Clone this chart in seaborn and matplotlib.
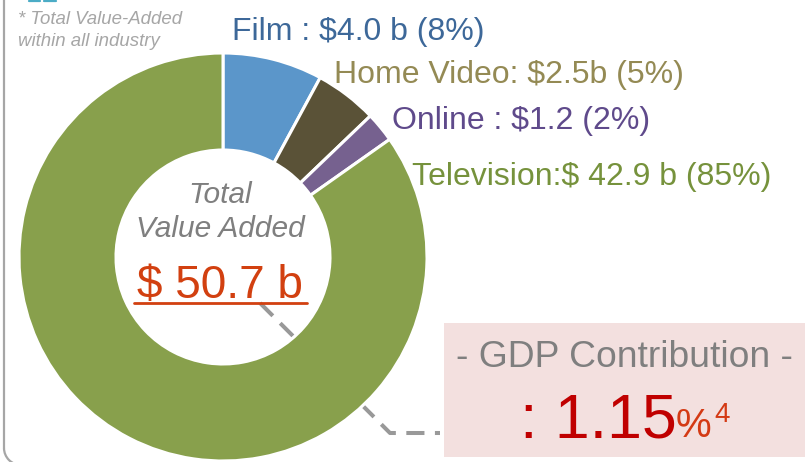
import matplotlib
matplotlib.use("Agg")
import matplotlib.pyplot as plt
import seaborn as sns
from matplotlib.patches import Arc, Rectangle

# --- data ---
segments = ["Film", "Home Video", "Online", "Television"]
values_b = [4.0, 2.5, 1.2, 42.9]
share_pct = [8, 5, 2, 85]
label_texts = [
    "Film : $4.0 b (8%)",
    "Home Video: $2.5b (5%)",
    "Online : $1.2 (2%)",
    "Television:$ 42.9 b (85%)",
]
total_b = 50.7
gdp_share = 1.15
gdp_note = "4"

wedge_colors = ["#5B96CA", "#5A5237", "#76618F", "#88A04C"]
text_colors = ["#3D6899", "#948A54", "#5F4A8B", "#76923C"]

sns.set_theme(style="white")
plt.rcParams["font.family"] = ["Liberation Sans", "DejaVu Sans"]

fig = plt.figure(figsize=(8.07, 4.62), dpi=100)
ax = fig.add_axes([0, 0, 1, 1])

# donut, clockwise from 12 o'clock (y axis is flipped below, so counterclock=True reads clockwise)
ax.pie(
    values_b,
    colors=wedge_colors,
    center=(223, 257),
    radius=204,
    startangle=-90,
    counterclock=True,
    wedgeprops=dict(width=97, edgecolor="white", linewidth=2.2),
    frame=True,
)

ax.set_xlim(0, 807)
ax.set_ylim(462, 0)
ax.set_aspect("equal")
ax.axis("off")

# dashed leader from the total to the GDP box (sits under the ring)
ax.plot([260, 390, 440], [303, 433, 433], color="#999999", lw=2.9,
        dashes=(4.5, 2.6), solid_capstyle="butt", zorder=0)

# panel frame (only the left edge and its rounded corner are in view)
ax.plot([4, 4], [-5, 448], color="#A6A6A6", lw=1.6, zorder=0.5)
ax.add_patch(Arc((21, 448), 34, 34, theta1=90, theta2=180, color="#A6A6A6", lw=1.6, zorder=0.5))
ax.plot([29, 40], [0.6, 0.6], color="#4BACC6", lw=1.6)
ax.plot([44, 56], [0.6, 0.6], color="#4BACC6", lw=1.6)

# footnote
ax.text(18, 24, "* Total Value-Added", fontsize=13.4, style="italic", color="#A6A6A6")
ax.text(18, 46, "within all industry", fontsize=13.4, style="italic", color="#A6A6A6")

# segment labels
label_pos = [(232, 40), (334, 83), (392, 129), (412, 185)]
for txt, col, (x, y) in zip(label_texts, text_colors, label_pos):
    ax.text(x, y, txt, fontsize=23, color=col, ha="left", va="baseline")

# centre of the donut
ax.text(220, 203, "Total", fontsize=21.5, style="italic", color="#7F7F7F", ha="center", va="baseline")
ax.text(220, 237, "Value Added", fontsize=21.5, style="italic", color="#7F7F7F", ha="center", va="baseline")
ax.text(220, 298, f"$ {total_b} b", fontsize=33, color="#D24010", ha="center", va="baseline")
ax.plot([134, 307], [303, 303], color="#D24010", lw=2)

# GDP box
ax.add_patch(Rectangle((444, 323), 361, 134, fc="#F3E0DF", ec="none", zorder=1))
ax.text(624, 367, "- GDP Contribution -", fontsize=26.8, color="#7F7F7F", ha="center", va="baseline", zorder=2)
ax.text(520, 437, f": {gdp_share}", fontsize=45, color="#C00000", ha="left", va="baseline", zorder=2)
ax.text(676, 437, "%", fontsize=29, color="#D43A14", ha="left", va="baseline", zorder=2)
ax.text(714, 422, gdp_note, fontsize=20, color="#D43A14", ha="left", va="baseline", zorder=2)

fig.savefig("out.png", dpi=100)
